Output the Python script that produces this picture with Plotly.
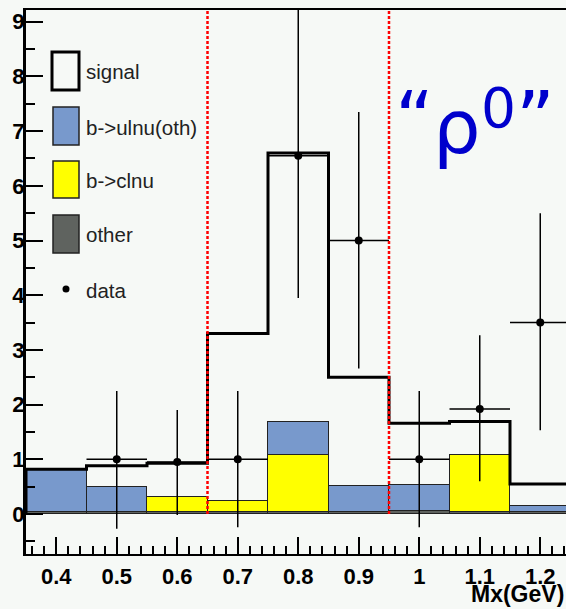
import plotly.graph_objects as go

# ---- data ----
bin_centers = [0.4, 0.5, 0.6, 0.7, 0.8, 0.9, 1.0, 1.1, 1.2]
bin_width = 0.1
other = [0.03, 0.03, 0.03, 0.03, 0.03, 0.03, 0.06, 0.03, 0.03]
b_clnu = [0.0, 0.0, 0.28, 0.21, 1.05, 0.0, 0.0, 1.05, 0.0]
b_ulnu_oth = [0.79, 0.46, 0.0, 0.0, 0.60, 0.48, 0.47, 0.0, 0.12]
signal = [0.0, 0.39, 0.62, 3.06, 4.92, 1.99, 1.13, 0.61, 0.40]

data_x = [0.5, 0.6, 0.7, 0.8, 0.9, 1.0, 1.1, 1.2]
data_y = [1.0, 0.95, 1.0, 6.55, 5.0, 1.0, 1.92, 3.5]
data_err_up = [1.25, 0.95, 1.25, 2.7, 2.35, 1.25, 1.35, 2.0]
data_err_dn = [1.27, 0.97, 1.24, 2.6, 2.34, 1.24, 1.32, 1.97]

cut_edges = [0.65, 0.95]
legend_labels = ["signal", "b->ulnu(oth)", "b->clnu", "other", "data"]

BG = "#f6f9f6"
BLUE = "#7899cc"
YELLOW = "#ffff00"
GREY = "#5f635f"

fig = go.Figure()

fig.add_trace(go.Bar(x=bin_centers, y=other, width=bin_width, marker=dict(color=GREY, line=dict(color="#222", width=1)), name="other"))
fig.add_trace(go.Bar(x=bin_centers, y=b_clnu, width=bin_width, marker=dict(color=YELLOW, line=dict(color="#222", width=1)), name="b->clnu"))
fig.add_trace(go.Bar(x=bin_centers, y=b_ulnu_oth, width=bin_width, marker=dict(color=BLUE, line=dict(color="#222", width=1)), name="b->ulnu(oth)"))

# stacked total outline (signal on top of backgrounds)
totals = [o + c + u + s for o, c, u, s in zip(other, b_clnu, b_ulnu_oth, signal)]
edges = [c - bin_width / 2 for c in bin_centers] + [bin_centers[-1] + bin_width / 2]
step_x = [edges[0]] + edges
step_y = [0] + totals + [totals[-1]]
fig.add_trace(go.Scatter(x=step_x, y=step_y, mode="lines", line=dict(color="black", width=3, shape="hv"), name="signal"))

fig.add_trace(go.Scatter(
    x=data_x, y=data_y, mode="markers", name="data",
    marker=dict(color="black", size=8),
    error_y=dict(type="data", symmetric=False, array=data_err_up, arrayminus=data_err_dn, color="black", thickness=1.5, width=0),
    error_x=dict(type="constant", value=bin_width / 2, color="black", thickness=1.5, width=0),
))

for xe in cut_edges:
    fig.add_shape(type="line", xref="x", yref="y", x0=xe, x1=xe, y0=0, y1=9.3,
                  line=dict(color="red", width=2.5, dash="3px,2px"), layer="above")

# ---- custom legend (decoration in paper coords) ----
L, T, W, H = 26, 10, 540, 544
def px(xp):
    return (xp - L) / W
def py(yp):
    return (T + H - yp) / H

boxes = [
    (52, 52, 79, 90, BG, "black", 3),
    (53, 107, 79, 145, BLUE, "#222", 1.5),
    (53, 161, 79, 198, YELLOW, "#222", 1.5),
    (53, 215, 79, 253, GREY, "#222", 1.5),
]
for x0, y0, x1, y1, fc, lc, lw in boxes:
    fig.add_shape(type="rect", xref="paper", yref="paper", x0=px(x0), x1=px(x1), y0=py(y1), y1=py(y0),
                  fillcolor=fc, line=dict(color=lc, width=lw), layer="above")
fig.add_shape(type="circle", xref="paper", yref="paper", x0=px(62.5), x1=px(69.5), y0=py(292.5), y1=py(285.5),
              fillcolor="black", line=dict(color="black", width=0), layer="above")
text_y = [71, 127, 180, 234, 290]
for lab, ty in zip(legend_labels, text_y):
    fig.add_annotation(xref="paper", yref="paper", x=px(84), y=py(ty), text=lab, showarrow=False,
                       xanchor="left", yanchor="middle", font=dict(family="Liberation Sans", size=20.5, color="#222"))

# "rho0" label, pieces placed individually
title_font = dict(family="DejaVu Sans", size=75, color="#0000cc")
fig.add_annotation(xref="paper", yref="paper", x=px(414), y=py(119), text="“", showarrow=False,
                   xanchor="center", yanchor="middle", font=title_font)
fig.add_annotation(xref="paper", yref="paper", x=px(457), y=py(127), text="ρ", showarrow=False,
                   xanchor="center", yanchor="middle", font=title_font)
fig.add_annotation(xref="paper", yref="paper", x=px(479), y=py(108), text="0", showarrow=False,
                   xanchor="left", yanchor="middle", font=dict(family="DejaVu Sans", size=55, color="#0000cc"))
fig.add_annotation(xref="paper", yref="paper", x=px(535), y=py(119), text="”", showarrow=False,
                   xanchor="center", yanchor="middle", font=title_font)

fig.add_annotation(xref="paper", yref="paper", x=px(469), y=py(594), text="<b>Mx(GeV)</b>", showarrow=False,
                   xanchor="left", yanchor="middle", font=dict(family="Liberation Sans", size=23, color="black"))

tickfont = dict(family="Liberation Sans", size=22, color="black", weight="bold")
fig.update_layout(
    width=566, height=609,
    margin=dict(l=L, r=566 - L - W, t=T, b=609 - T - H),
    paper_bgcolor=BG, plot_bgcolor=BG,
    barmode="stack", bargap=0, showlegend=False,
    xaxis=dict(range=[0.35, 0.35 + W / 605.0], showgrid=False, zeroline=False, showline=True, linecolor="black",
               linewidth=2, mirror=True, ticks="inside", ticklen=17, tickwidth=1.5, tickcolor="black",
               dtick=0.1, tick0=0.4, tickfont=tickfont, ticklabelstandoff=2,
               minor=dict(ticks="inside", ticklen=8, dtick=0.02, tickwidth=1.5, tickcolor="black")),
    yaxis=dict(range=[-(T + H - 514) / 54.7, (514 - T) / 54.7], showgrid=False, zeroline=False, showline=True,
               linecolor="black", linewidth=3, ticks="inside", ticklen=17, tickwidth=1.5, tickcolor="black",
               dtick=1, tick0=0, tickfont=tickfont, ticklabelstandoff=-6,
               minor=dict(ticks="inside", ticklen=9, dtick=0.5, tickwidth=1.5, tickcolor="black")),
)

fig.write_html("out.html")
